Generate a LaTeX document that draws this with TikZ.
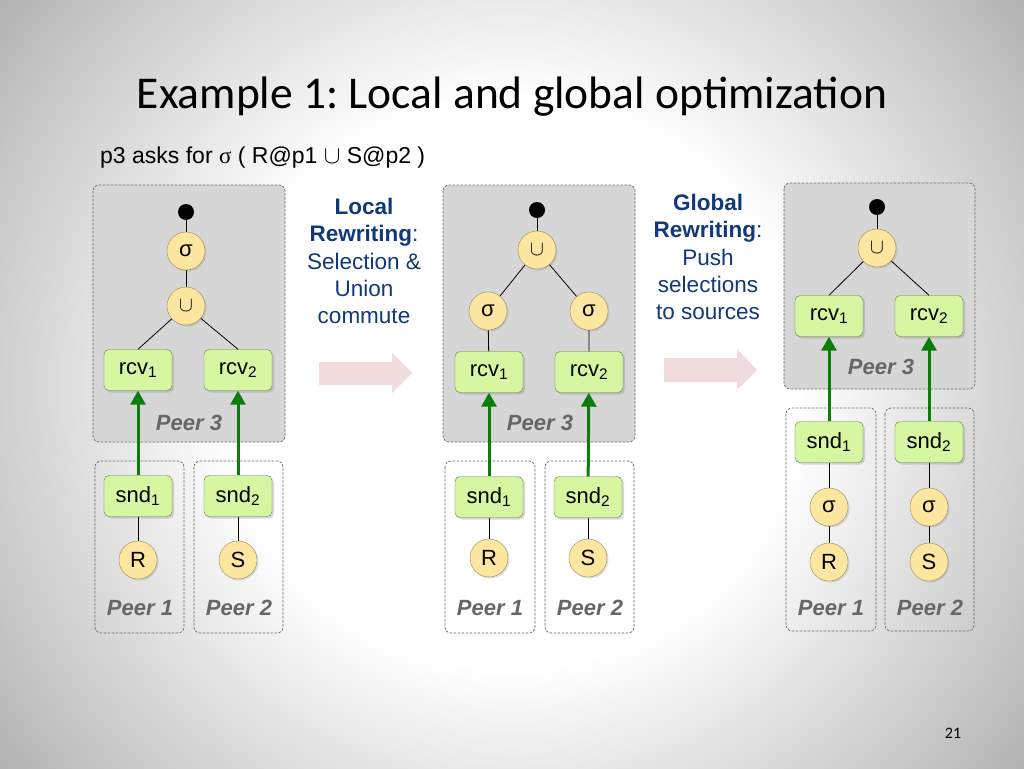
\documentclass[tikz,border=0pt]{standalone}
\usepackage{fontspec}
\setmainfont{Liberation Sans}
\newfontfamily\titlefont{Carlito}
\newfontfamily\symbfont{Liberation Serif}
\usetikzlibrary{arrows.meta,shadows}
\definecolor{bgmid}{gray}{0.78}
\definecolor{bggray}{gray}{0.63}
\definecolor{bgdark}{gray}{0.50}
\definecolor{opfill}{HTML}{FDE6A0}
\definecolor{opline}{HTML}{9C8A5A}
\definecolor{msgfill}{HTML}{D6F6A2}
\definecolor{msgline}{HTML}{5F7F45}
\definecolor{flowgreen}{HTML}{0B7D0B}
\definecolor{rewblue}{HTML}{10387A}
\definecolor{arrowpink}{HTML}{F0DCDC}
\definecolor{peergray}{HTML}{D6D6D6}
\pgfdeclareradialshading{slidebg}{\pgfpoint{0bp}{0bp}}{color(0bp)=(white);color(14bp)=(white);color(27bp)=(bgmid);color(35bp)=(bggray);color(50bp)=(bgdark)}
\newcommand{\sub}[1]{\textsubscript{#1}}
\begin{document}
\begin{tikzpicture}[x=1pt,y=-1pt,
    op/.style={circle,draw=opline,fill=opfill,minimum size=38pt,inner sep=0pt,
      font=\fontsize{22}{24}\selectfont,drop shadow={opacity=0.25,shadow xshift=1.5pt,shadow yshift=-1.5pt}},
    msg/.style={rectangle,rounded corners=5pt,draw=msgline,fill=msgfill,minimum width=68pt,
      minimum height=41pt,inner sep=0pt,font=\fontsize{22}{24}\selectfont,
      drop shadow={opacity=0.3,shadow xshift=2pt,shadow yshift=-2pt}},
    rootdot/.style={circle,fill=black,minimum size=16pt,inner sep=0pt},
    peer/.style={draw=black!60,line width=0.7pt,dash pattern=on 2.5pt off 1.5pt,rounded corners=6pt},
    peerlabel/.style={text=black!60,font=\fontsize{22}{24}\selectfont\bfseries\itshape},
    link/.style={draw=black,line width=0.8pt},
    flow/.style={draw=flowgreen,line width=3pt,-{Triangle[width=15pt,length=14pt]}},
    rew/.style={text=rewblue,align=center,font=\fontsize{22.5}{27.3}\selectfont}]
  \useasboundingbox (0,0) rectangle (1024,768);
  \begin{scope}
    \clip (0,0) rectangle (1024,768);
    \shade[shading=slidebg] (0,-121) rectangle (1024,889);
  \end{scope}
  \node[font=\titlefont\fontsize{45.5}{48}\selectfont] (title) at (512,97) {Example 1:\ Local and global optimization};
  \node[anchor=west,font=\fontsize{23}{25}\selectfont,inner sep=0pt] (query) at (100,158)
    {p3 asks for {\symbfont σ} ( R@p1 $\cup$ S@p2 )};
  \node[font=\titlefont\fontsize{16}{18}\selectfont] (pagenum) at (953,733) {21};

  \draw[peer,fill=peergray] (93,185) rectangle (285,442);
  \draw[peer] (95,461) rectangle (184,633);
  \draw[peer] (194,461) rectangle (283,633);
  \draw[peer,fill=peergray] (443,185) rectangle (635,442);
  \draw[peer] (445,461) rectangle (535,633);
  \draw[peer] (545,461) rectangle (634,633);
  \draw[peer,fill=peergray] (784,183) rectangle (975,389);
  \draw[peer] (786,408) rectangle (876,631);
  \draw[peer] (885,408) rectangle (974,631);

  \fill[arrowpink] (319,362) -- (392,362) -- (392,353) -- (412,373) -- (392,393) -- (392,385) -- (319,385) -- cycle;
  \fill[arrowpink] (664,358) -- (737,358) -- (737,349) -- (757,370) -- (737,390) -- (737,382) -- (664,382) -- cycle;

  \node[rew] (local) at (364,261) {\textbf{Local}\\\textbf{Rewriting}:\\Selection \&\\Union\\commute};
  \node[rew] (global) at (708,257) {\textbf{Global}\\\textbf{Rewriting}:\\Push\\selections\\to sources};

  \node[peerlabel] (peerthreea) at (189,423) {Peer 3};
  \node[peerlabel] (peeronea) at (140,608) {Peer 1};
  \node[peerlabel] (peertwoa) at (239,608) {Peer 2};
  \node[rootdot] (topa) at (186,212) {};
  \node[op] (sela) at (186,251) {σ};
  \node[op] (unia) at (186,306) {$\cup$};
  \node[msg] (rcvonea) at (138,370) {rcv\sub{1}};
  \node[msg] (rcvtwoa) at (238,370) {rcv\sub{2}};
  \node[msg] (sndonea) at (138,496) {snd\sub{1}};
  \node[msg] (sndtwoa) at (238,496) {snd\sub{2}};
  \node[op] (ra) at (138,560) {R};
  \node[op] (sa) at (238,560) {S};
  \draw[link] (topa) -- (sela) -- (unia);
  \draw[link] (unia) -- (rcvonea.north);
  \draw[link] (unia) -- (rcvtwoa.north);
  \draw[link] (sndonea) -- (ra);
  \draw[link] (sndtwoa) -- (sa);
  \draw[flow] (sndonea) -- (rcvonea);
  \draw[flow] (sndtwoa) -- (rcvtwoa);

  \node[peerlabel] (peerthreeb) at (540,423) {Peer 3};
  \node[peerlabel] (peeroneb) at (490,608) {Peer 1};
  \node[peerlabel] (peertwob) at (590,608) {Peer 2};
  \node[rootdot] (topb) at (537,210) {};
  \node[op] (unib) at (537,250) {$\cup$};
  \node[op] (seloneb) at (488,311) {σ};
  \node[op] (seltwob) at (589,311) {σ};
  \node[msg] (rcvoneb) at (489,372) {rcv\sub{1}};
  \node[msg] (rcvtwob) at (589,372) {rcv\sub{2}};
  \node[msg] (sndoneb) at (489,497) {snd\sub{1}};
  \node[msg] (sndtwob) at (588,497) {snd\sub{2}};
  \node[op] (rb) at (489,558) {R};
  \node[op] (sb) at (588,558) {S};
  \draw[link] (topb) -- (unib);
  \draw[link] (unib) -- (seloneb) -- (rcvoneb);
  \draw[link] (unib) -- (seltwob) -- (rcvtwob);
  \draw[link] (sndoneb) -- (rb);
  \draw[link] (sndtwob) -- (sb);
  \draw[flow] (sndoneb) -- (rcvoneb);
  \draw[flow] (sndtwob) -- (rcvtwob);

  \node[peerlabel] (peerthreec) at (881,367) {Peer 3};
  \node[peerlabel] (peeronec) at (831,608) {Peer 1};
  \node[peerlabel] (peertwoc) at (930,608) {Peer 2};
  \node[rootdot] (topc) at (877,207) {};
  \node[op] (unic) at (877,248) {$\cup$};
  \node[msg] (rcvonec) at (829,316) {rcv\sub{1}};
  \node[msg] (rcvtwoc) at (929,316) {rcv\sub{2}};
  \node[msg] (sndonec) at (829,442) {snd\sub{1}};
  \node[msg] (sndtwoc) at (929,442) {snd\sub{2}};
  \node[op] (selonec) at (829,507) {σ};
  \node[op] (seltwoc) at (929,507) {σ};
  \node[op] (rc) at (829,562) {R};
  \node[op] (sc) at (929,562) {S};
  \draw[link] (topc) -- (unic);
  \draw[link] (unic) -- (rcvonec.north);
  \draw[link] (unic) -- (rcvtwoc.north);
  \draw[link] (sndonec) -- (selonec) -- (rc);
  \draw[link] (sndtwoc) -- (seltwoc) -- (sc);
  \draw[flow] (sndonec) -- (rcvonec);
  \draw[flow] (sndtwoc) -- (rcvtwoc);
\end{tikzpicture}
\end{document}
